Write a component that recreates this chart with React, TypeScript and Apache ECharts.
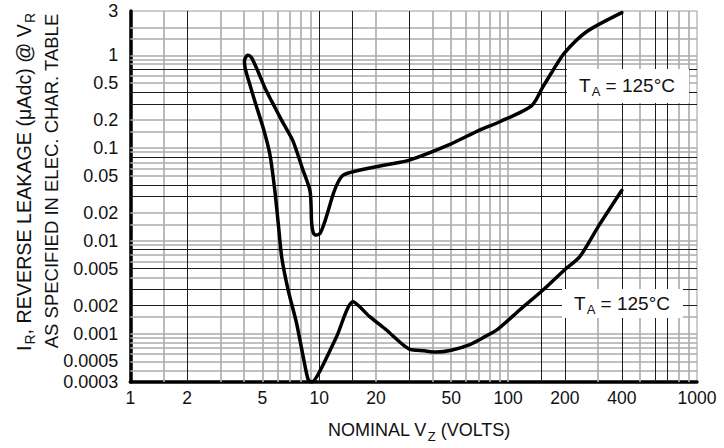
import React, { useEffect, useRef } from "react";
import * as echarts from "echarts";

const FONT = "'Liberation Sans', Arial, Helvetica, sans-serif";
const INK = "#111111";

// axis tick labels
const xTickValues = [1, 2, 5, 10, 20, 50, 100, 200, 400, 1000];
const xTickLabels = ["1", "2", "5", "10", "20", "50", "100", "200", "400", "1000"];
const yTickValues = [0.0003, 0.0005, 0.001, 0.002, 0.005, 0.01, 0.02, 0.05, 0.1, 0.2, 0.5, 1, 2, 3];
const yTickLabels = ["0.0003", "0.0005", "0.001", "0.002", "0.005", "0.01", "0.02", "0.05", "0.1", "0.2", "0.5", "1", "2", "3"];

// graph-paper rulings
const xRulingsDark = [2, 10, 15, 30, 150, 200, 400, 600, 700];
const xRulingsLight = [1.5, 3, 4, 5, 6, 7, 8, 9, 20, 40, 50, 60, 70, 80, 90, 100, 300, 500, 800, 900];
const yRulingsDark = [0.002, 0.003, 0.005, 0.008, 0.03, 0.04, 0.08, 0.3, 0.4, 0.7];
const yRulingsLight = [
  0.0004, 0.0005, 0.0006, 0.0007, 0.0008, 0.0009, 0.001, 0.0015, 0.004, 0.006, 0.007, 0.009, 0.01, 0.015,
  0.02, 0.05, 0.06, 0.07, 0.09, 0.1, 0.15, 0.2, 0.5, 0.6, 0.8, 0.9, 1, 1.5, 2,
];

// curve: upper branch (from loop top, via dip near 10 V, to 400 V)
const upperBranchVz = [4.17, 4.27, 4.4, 4.75, 5.17, 5.6, 6.35, 7.25, 8.15, 8.95, 9.12, 9.3, 9.55, 10.1, 10.7, 11.9, 12.6, 13.4, 15.1, 22.7, 30, 48.5, 70.6, 90.4, 133, 153, 173, 198, 260, 400];
const upperBranchIr = [1.0, 0.99, 0.93, 0.665, 0.44, 0.32, 0.196, 0.12, 0.06, 0.034, 0.0155, 0.0122, 0.0115, 0.012, 0.016, 0.0325, 0.043, 0.051, 0.0555, 0.066, 0.074, 0.108, 0.156, 0.192, 0.284, 0.458, 0.69, 1.05, 1.79, 2.88];

// curve: lower branch (from loop top, via dip near 9 V and peak at 15 V, to 400 V)
const lowerBranchVz = [4.17, 4.08, 4.02, 4.05, 4.12, 4.34, 4.57, 5.06, 5.49, 5.83, 6.07, 6.33, 6.85, 7.59, 8.23, 8.75, 9.15, 10.05, 12.35, 15.1, 18.5, 22.7, 26.5, 30, 36, 41.8, 50, 62.7, 75, 88, 115, 153, 200, 239, 300, 400];
const lowerBranchIr = [1.0, 0.95, 0.86, 0.74, 0.64, 0.45, 0.315, 0.163, 0.084, 0.034, 0.0154, 0.0067, 0.00294, 0.00129, 0.00056, 0.000316, 0.0003, 0.000388, 0.00092, 0.0022, 0.00152, 0.00109, 0.00082, 0.00068, 0.00065, 0.00063, 0.00066, 0.00076, 0.00092, 0.00111, 0.00179, 0.00294, 0.0049, 0.0067, 0.0142, 0.035];

const tempLabel = "{n|T}{s|A}{n| = 125°C}";
const yTitle1 = "{n|I}{s|R}{n|, REVERSE LEAKAGE (μAdc) @ V}{s|R}";
const yTitle2 = "{n|AS SPECIFIED IN ELEC. CHAR. TABLE}";
const xTitle = "{n|NOMINAL V}{s|Z}{n| (VOLTS)}";

function nearestLabel(v: number, vals: number[], labels: string[]) {
  let best = 0;
  let bd = Infinity;
  vals.forEach((t, i) => {
    const d = Math.abs(Math.log10(t) - Math.log10(v));
    if (d < bd) {
      bd = d;
      best = i;
    }
  });
  return labels[best];
}

function rich(size: number) {
  return {
    n: { fontSize: size, fontFamily: FONT, fill: INK },
    s: { fontSize: Math.round(size * 0.7), fontFamily: FONT, fill: INK, padding: [12, 0, 0, 1] },
  };
}

export default function App() {
  const ref = useRef<HTMLDivElement>(null);
  useEffect(() => {
    if (!ref.current) return;
    const chart = echarts.init(ref.current, null, { renderer: "svg" });
    const upper = upperBranchVz.map((v, i) => [v, upperBranchIr[i]]);
    const lower = lowerBranchVz.map((v, i) => [v, lowerBranchIr[i]]);
    const path = [...upper.slice().reverse(), ...lower.slice(1)];

    const dark = { color: "#1c1c1c", width: 1, type: "solid" };
    const light = { color: "#ababab", width: 1.6, type: "solid" };
    const rulings = [
      ...xRulingsLight.map((v) => ({ xAxis: v, lineStyle: light })),
      ...yRulingsLight.map((v) => ({ yAxis: v, lineStyle: light })),
      ...xRulingsDark.map((v) => ({ xAxis: v, lineStyle: dark })),
      ...yRulingsDark.map((v) => ({ yAxis: v, lineStyle: dark })),
    ];

    chart.setOption({
      animation: false,
      backgroundColor: "#ffffff",
      grid: {
        left: 130.3,
        right: 27,
        top: 11,
        bottom: 66,
        show: true,
        borderColor: "#9a9a9a",
        borderWidth: 1,
        backgroundColor: "#ffffff",
        outerBoundsMode: "none",
        containLabel: false,
      },
      xAxis: {
        type: "log",
        logBase: 10,
        min: 1,
        max: 1000,
        axisLine: { show: true, lineStyle: { color: "#000", width: 3.5 } },
        axisTick: { show: false },
        splitLine: { show: false },
        minorSplitLine: { show: false },
        axisLabel: {
          customValues: xTickValues,
          formatter: (v: number) => nearestLabel(v, xTickValues, xTickLabels),
          color: INK,
          fontFamily: FONT,
          fontSize: 17.5,
          margin: 7,
          showMinLabel: true,
          showMaxLabel: true,
        },
      },
      yAxis: {
        type: "log",
        logBase: 10,
        min: 0.0003,
        max: 3,
        axisLine: { show: true, lineStyle: { color: "#000", width: 3.5 } },
        axisTick: { show: false },
        splitLine: { show: false },
        minorSplitLine: { show: false },
        axisLabel: {
          customValues: yTickValues,
          formatter: (v: number) => nearestLabel(v, yTickValues, yTickLabels),
          color: INK,
          fontFamily: FONT,
          fontSize: 18,
          margin: 12,
          showMinLabel: true,
          showMaxLabel: true,
        },
      },
      series: [
        {
          type: "line",
          data: path,
          z: 10,
          symbol: "none",
          smooth: 0.25,
          lineStyle: { color: "#000", width: 3.5, cap: "round", join: "round" },
          silent: true,
          markLine: {
            silent: true,
            z: 1,
            precision: 20,
            symbol: ["none", "none"],
            label: { show: false },
            emphasis: { disabled: true },
            data: rulings,
          },
        },
      ],
      graphic: [
        { type: "rect", z: 20, shape: { x: 567, y: 69, width: 122, height: 34 }, style: { fill: "#fff" } },
        {
          type: "text", z: 21, x: 627, y: 85,
          style: { text: tempLabel, rich: rich(19), align: "center", verticalAlign: "middle" },
        },
        { type: "rect", z: 20, shape: { x: 562, y: 289, width: 121, height: 29 }, style: { fill: "#fff" } },
        {
          type: "text", z: 21, x: 622, y: 303,
          style: { text: tempLabel, rich: rich(19), align: "center", verticalAlign: "middle" },
        },
        {
          type: "text", z: 21, x: 24, y: 182, rotation: Math.PI / 2,
          style: { text: yTitle1, rich: rich(19.7), align: "center", verticalAlign: "middle" },
        },
        {
          type: "text", z: 21, x: 51, y: 181, rotation: Math.PI / 2,
          style: { text: yTitle2, rich: rich(18.5), align: "center", verticalAlign: "middle" },
        },
        {
          type: "text", z: 21, x: 419, y: 430,
          style: { text: xTitle, rich: rich(18), align: "center", verticalAlign: "middle" },
        },
      ],
    });
    return () => chart.dispose();
  }, []);
  return <div ref={ref} style={{ position: "absolute", left: 0, top: 0, width: 724, height: 448 }} />;
}
